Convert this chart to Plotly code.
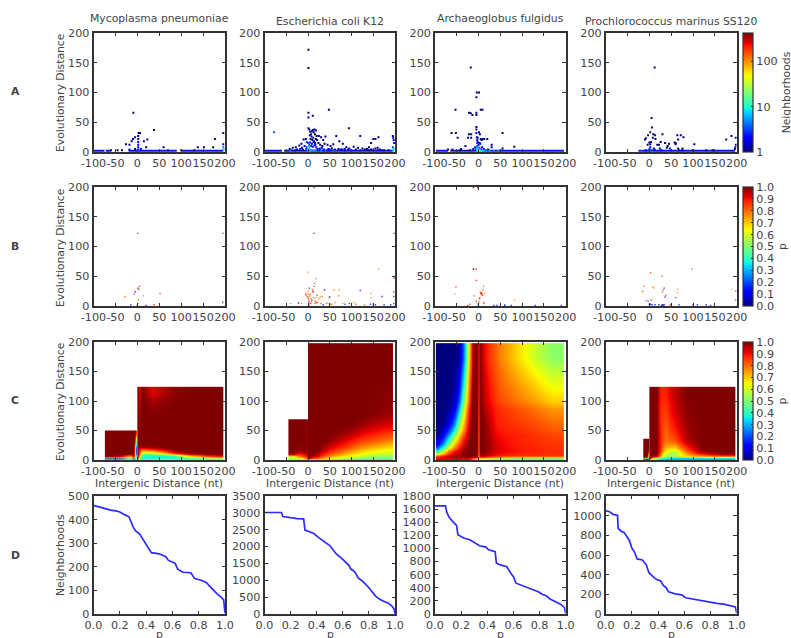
import math
import plotly.graph_objects as go

W, H = 791, 638
col_names = ["Mycoplasma pneumoniae", "Escherichia coli K12", "Archaeoglobus fulgidus", "Prochlorococcus marinus SS120"]
col_px = [(93.5, 225), (264.5, 395), (435, 565.7), (605.7, 736.7)]
row_px = [(33, 152), (187, 306), (342, 460), (496, 614)]
x_ticks = [-100, -50, 0, 50, 100, 150, 200]
y_ticks = [0, 50, 100, 150, 200]
p_ticks = [0, 0.2, 0.4, 0.6, 0.8, 1.0]
d_max = [500, 3500, 1800, 1200]
d_step = [100, 500, 200, 200]

JET = [[0, "#00007f"], [.11, "#0000ff"], [.125, "#0000ff"], [.34, "#00dcff"], [.375, "#14ffd4"],
       [.64, "#f7ff00"], [.66, "#ffed00"], [.89, "#ff1700"], [.91, "#f20000"], [1, "#7f0000"]]
INK = "#444444"

# Row A: neighbourhood counts
A1_x = [-9, 3, 6, 2, 2, 2, 2, 2, 2, 38, -5, -10, -13, 15, 23, 20, -26, -18, -18, 60, 177, 196, 196, 196, 173, 152, 138, -35, -45, -60, -5, 8, 100, 130, 70, 197, 1]
A1_y = [66, 32, 32, 27, 22, 17, 12, 8, 4, 37, 25, 22, 18, 18, 21, 8, 13, 12, 4, 8, 22, 32, 13, 8, 8, 8, 8, 3, 3, 3, 5, 5, 3, 3, 3, 4, 3]
A1_n = [1, 1, 1, 1, 1, 2, 2, 2, 3, 1, 1, 1, 1, 1, 1, 1, 1, 1, 2, 1, 1, 1, 2, 5, 1, 1, 1, 1, 1, 1, 1, 2, 1, 1, 1, 7, 4]
A1_base_x = [-100, -75, None, -72, -60, None, -20, 90, None, 100, 196]
A1_base_y = [2, 2, None, 2, 2, None, 2, 2, None, 2, 2]

A2_x = [1, 1, 1, 1, 11, 48, -78, 1, 94, 120, 162, 150, 145, 155, 140, 136, 160, 195, 196, 197, 198, 195,
        3, 5, 7, 9, 11, 13, 15, 16, 18, 20, 4, 6, 8, 10, 12, 14, 16, 18, 5, 9, 13, 17, 21, 25, 30, 35, 40, 3, 7, 11, 15, 19,
        24, 28, 33, 38, 45, 52, 58, 65, 72, 80, 88, 95, 105, 115, 125, 135, 145, 155, 165, 175, 185,
        22, 27, 32, 37, 47, 55, 62, 70, 78, 84, 92, 100, 110, 120, 130, 140, 150, 160, 170,
        -5, -10, -15, -20, -8, -14, -28, -35, -42, -12, -3, -25, -38, -3, 28, 36, 44, 50, 60, 75, 85,
        -4, 0, -40, -30, -18, 2, 4, -1, 0, 1, 2, 3, 4, 6, 8, 10, 14, 18, 30, 40, 60, 196, 197]
A2_y = [172, 141, 66, 58, 61, 71, 33, 40, 40, 27, 25, 22, 15, 22, 8, 5, 7, 27, 24, 20, 15, 8,
        38, 34, 30, 35, 37, 33, 38, 30, 36, 27, 28, 22, 26, 20, 24, 18, 15, 22, 16, 14, 17, 12, 20, 27, 25, 20, 26, 12, 10, 9, 11, 8,
        15, 12, 10, 14, 12, 10, 13, 27, 18, 14, 8, 6, 9, 7, 6, 5, 4, 6, 4, 3, 3,
        5, 6, 7, 4, 5, 6, 4, 5, 4, 5, 4, 3, 4, 3, 4, 3, 4, 3, 3,
        22, 21, 14, 11, 10, 7, 8, 7, 5, 4, 17, 4, 3, 8, 4, 3, 3, 4, 3, 4, 3,
        5, 15, 2, 3, 5, 8, 4, 3, 5, 8, 2, 3, 2, 2, 3, 2, 2, 3, 2, 2, 2, 2, 5]
A2_n = [1, 1, 1, 1, 1, 1, 4, 1, 1, 1, 1, 1, 1, 1, 1, 1, 1, 1, 2, 2, 2, 3,
        1, 1, 1, 1, 1, 1, 1, 1, 1, 1, 2, 1, 1, 1, 1, 1, 1, 1, 2, 2, 1, 2, 1, 1, 1, 1, 1, 3, 3, 2, 2, 2,
        1, 1, 1, 1, 1, 1, 1, 1, 1, 1, 1, 1, 1, 1, 1, 1, 1, 1, 1, 1, 1,
        2, 2, 2, 2, 2, 1, 2, 1, 2, 1, 2, 2, 1, 2, 1, 2, 1, 2, 2,
        1, 1, 1, 1, 2, 1, 1, 1, 1, 1, 3, 1, 1, 3, 2, 2, 2, 2, 2, 2, 2,
        3, 3, 5, 2, 2, 4, 5, 6, 8, 9, 10, 8, 7, 6, 6, 5, 5, 5, 5, 4, 4, 8, 8]
A2_base_x = [-100, -60, None, -55, -25, None, -25, 196]
A2_base_y = [2, 2, None, 2, 2, None, 2, 2]

A3_x = [-18, -4, 1, -5, 5, -53, -22, -18, -14, -5, -5, 9, -5, -5, -62, -52, -48, -22, -17, -17, -24, 55, 82, 55,
        -5, -4, -3, -3, -3, -3, -2, -2, 0, 1, 3, 5, 7, 10, 13, 2, 4, 8, 20, 30, 30, 22, 2, -8, -12, -20, -30, -40, -43, -60, -70, 12, 18, 6, -6,
        -4, -3, -2, -2, -1, 0, 1, 3, 5, 8, 12, 18, 25, 35, 45]
A3_y = [142, 100, 100, 92, 71, 71, 66, 65, 62, 66, 62, 71, 42, 38, 32, 32, 24, 30, 30, 24, 24, 32, 9, 6,
        32, 25, 20, 15, 10, 6, 24, 17, 12, 33, 30, 22, 20, 22, 22, 15, 14, 8, 22, 12, 8, 4, 7, 8, 5, 3, 10, 5, 3, 4, 4, 5, 3, 4, 4,
        3, 5, 2, 8, 3, 2, 3, 2, 2, 2, 2, 2, 2, 2, 2]
A3_n = [1, 1, 1, 1, 1, 1, 1, 1, 1, 1, 1, 1, 1, 1, 1, 1, 1, 1, 1, 1, 1, 1, 1, 1,
        2, 2, 2, 3, 3, 4, 1, 2, 2, 1, 1, 1, 1, 1, 1, 2, 2, 2, 1, 1, 1, 1, 3, 2, 1, 1, 1, 1, 1, 1, 1, 2, 1, 2, 2,
        5, 8, 11, 6, 13, 14, 12, 10, 9, 8, 7, 6, 6, 5, 5]
A3_base_x = [-98, -70, None, -65, 196]
A3_base_y = [2, 2, None, 2, 2]

A4_x = [12, 5, 6, -3, 2, 9, 13, 0, -4, 30, 36, -8, -10, 2, 8, 14, 18, 26, 64, 66, 58, 72, 78, 60, 60, 66, 45, 42, 40, 47, 103,
        188, 176, 198, 198, 197, 196, 4, 10, 2, 0, 12, 22, 24, -8, 28, 68, 76, 75, 130, 145, 100, 48, 3, 4, 5]
A4_y = [142, 57, 41, 28, 33, 30, 28, 16, 12, 30, 15, 23, 21, 13, 24, 22, 12, 17, 28, 21, 16, 28, 25, 13, 15, 6, 14, 10, 7, 6, 13,
        27, 21, 24, 12, 8, 5, 17, 6, 8, 5, 4, 12, 6, 3, 3, 3, 6, 3, 3, 3, 3, 3, 3, 2, 3]
A4_n = [1, 1, 1, 1, 1, 1, 1, 1, 1, 1, 1, 1, 1, 1, 1, 1, 1, 1, 1, 1, 1, 1, 1, 1, 1, 1, 1, 1, 1, 1, 1,
        1, 1, 1, 1, 2, 2, 1, 2, 2, 3, 2, 1, 1, 2, 2, 1, 1, 1, 1, 1, 1, 3, 4, 5, 3]
A4_base_x = [-25, -18, None, -18, 196]
A4_base_y = [2, 2, None, 2, 2]

# Row B: p of single observations
B1_x = [1, 195, 5, 1, -5, -7, 14, 52, -28, 2, 1, 38, -15, 20, 195, 3, 0]
B1_y = [122, 122, 33, 30, 24, 20, 17, 21, 15, 10, 4, 2, 2, 1, 6, 28, 1]
B1_p = [.92, .92, .9, .98, .12, .9, .8, .85, .85, .8, .95, .9, .15, .15, .95, .98, .2]

B2_x = [14, 14, 162, 0, 19, 198, 198, 197, -5, -6, -2, 0, 1, 2, 3, 5, 6, 8, 10, 11, 12, 13, 15, 17, 19, 21, 25, 30, 35,
        38, 50, 60, 72, 70, 48, 55, 105, 120, 143, 145, 145, 170, 155, 190, 197, 197, -15, -22, -40, 28, 2, 4, 14, 42, 85, 95, 175,
        -4, 0, 1, 2, 7, 9, 16, 18, 22, 33, 45, 52, 62, 80, 110, 130, 150]
B2_y = [199, 122, 62, 57, 46, 122, 47, 24, 22, 20, 15, 25, 12, 8, 30, 20, 4, 7, 28, 25, 24, 14, 38, 8, 6, 18, 12, 4, 2,
        27, 15, 27, 27, 17, 14, 3, 6, 26, 3, 21, 14, 16, 2, 2, 16, 4, 4, 5, 4, 15, 1, 17, 33, 4, 3, 4, 2,
        18, 20, 15, 5, 12, 10, 4, 14, 6, 16, 5, 3, 6, 4, 3, 2, 3]
B2_p = [.95, .95, .8, .8, .8, .95, .9, .9, .75, .8, .85, .8, .95, .9, .1, .85, .9, .9, .85, .9, .95, .8, .85, .85, .9, .85, .8, .85, .1,
        .12, .12, .8, .78, .85, .8, .8, .75, .15, .15, .75, .75, .12, .12, .12, .12, .15, .8, .12, .8, .8, .98, .85, .9, .8, .15, .15, .15,
        .8, .85, .8, .9, .85, .9, .85, .8, .8, .8, .75, .8, .75, .78, .8, .8, .15]

B3_x = [-12, -11, -2, -12, -5, -5, 11, 10, 8, 6, 4, 14, 2, -52, -54, 83, -10, -5, -3, -2, 0, 1, 3, 5, 7, 9, 12, -20, -25, 35, 42, 60, 75, 130, 190, -1, 12, 60]
B3_y = [199, 62, 199, 62, 62, 43, 33, 27, 20, 20, 23, 21, 12, 32, 20, 10, 17, 8, 5, 3, 4, 7, 14, 22, 22, 18, 6, 3, 1, 1, 1, 2, 1, 1, 1, 1, 4, 1]
B3_p = [.95, .95, .95, .95, .95, .9, .8, .8, .9, .9, .85, .75, .9, .85, .75, .75, .85, .9, .5, .4, .3, .9, .85, .9, .9, .9, .85, .85, .9, .12, .12, .3, .15, .15, .15, .3, .85, .1]

B4_x = [98, 3, 29, -12, -16, 8, 10, 32, 34, 63, 65, 188, 198, 198, -8, -15, 4, 30, 32, 38, 36, 60, 0, 3, 6, 28, 30, 34, 32, 22, 68, 100, 110, 130, 140, 48, -3, 13]
B4_y = [62, 56, 50, 33, 25, 32, 30, 27, 30, 22, 28, 28, 25, 10, 9, 24, 10, 23, 27, 18, 15, 14, 3, 3, 2, 1, 2, 2, 1, 2, 2, 2, 2, 2, 1, 2, 8, 2]
B4_p = [.85, .85, .85, .8, .8, .8, .78, .78, .15, .75, .78, .75, .95, .9, .85, .8, .85, .8, .75, .85, .15, .15, .1, .05, .1, .1, .05, .1, .05, .1, .15, .15, .15, .1, .1, .9, .2, .1]

# Row C: smoothed p surfaces
C1L_xe = [-74, -50, -30, -20, -12, -7, -5, -3.5, -2, 0]
C1L_ye = [0, 1, 3, 5, 7, 9, 12, 17, 25, 38, 50]
C1L_z = [[.95, .95, .95, .85, .6, .3, .1, .1, .5],
         [.04, .04, .08, .1, .05, .02, .02, .3, .7],
         [.15, .2, .5, .6, .2, .4, .6, .6, .85],
         [.97, .92, .75, .72, .9, .85, .55, .3, .85],
         [1, 1, .93, .85, .97, .85, .5, .15, .8],
         [1, 1, 1, 1, 1, .85, .4, .05, .7],
         [1, 1, 1, 1, 1, .85, .35, .02, .55],
         [1, 1, 1, 1, 1, .9, .4, .02, .5],
         [1, 1, 1, 1, 1, 1, .65, .3, .65],
         [1, 1, 1, 1, 1, 1, .98, .8, .95]]
C1R_xe = [0, 2, 6, 12, 25, 45, 70, 100, 140, 170, 196]
C1R_ye = [0, 1.5, 3, 5, 8, 11, 14, 17, 20, 24, 30, 60, 85, 105, 124]
C1R_z = [[.9, .6, .3, .38, .42, .42, .42, .4, .4, .4],
         [.8, .55, .4, .4, .42, .42, .4, .42, .42, .45],
         [.95, .6, .4, .38, .38, .38, .4, .5, .6, .7],
         [1, .7, .45, .38, .38, .38, .42, .7, .85, .9],
         [1, .8, .5, .4, .42, .45, .65, .9, .97, 1],
         [1, .85, .6, .55, .6, .7, .88, .98, 1, 1],
         [1, .85, .75, .72, .75, .85, .97, 1, 1, 1],
         [1, .9, .85, .85, .9, .95, 1, 1, 1, 1],
         [1, .97, .97, .97, .98, 1, 1, 1, 1, 1],
         [1, 1, 1, 1, 1, 1, 1, 1, 1, 1],
         [1, 1, 1, 1, 1, 1, 1, 1, 1, 1],
         [1, .97, 1, 1, 1, 1, 1, 1, 1, 1],
         [1, .95, 1, 1, .98, .99, 1, 1, 1, 1],
         [1, .93, 1, .98, .92, .96, .99, 1, 1, 1]]

C2L_xe = [-45, -30, -20, -12, -4, -2, 0]
C2L_ye = [0, 2, 5, 8, 12, 20, 40, 69]
C2L_z = [[.5, .5, .5, .6, .7, .7],
         [.55, .58, .62, .72, .85, .9],
         [.6, .75, .8, .85, .9, .95],
         [.95, .87, .85, .92, .95, .97],
         [1, .98, .97, 1, .95, 1],
         [1, 1, 1, 1, .97, 1],
         [1, 1, 1, 1, .97, 1]]
C2R_xe = [0, 5, 15, 30, 50, 80, 110, 140, 170, 196]
C2R_ye = [0, 1, 2, 4, 8, 14, 20, 28, 38, 50, 65, 85, 198]
C2R_z = [[.4, .4, .45, .4, .38, .38, .38, .38, .38],
         [.75, .7, .65, .55, .5, .45, .42, .42, .42],
         [.97, .85, .8, .7, .6, .55, .5, .48, .48],
         [1, .95, .9, .8, .7, .62, .57, .53, .52],
         [1, 1, .95, .87, .78, .7, .63, .6, .58],
         [1, 1, 1, .93, .85, .77, .7, .66, .63],
         [1, 1, 1, .97, .91, .85, .78, .74, .7],
         [1, 1, 1, 1, .96, .9, .85, .82, .78],
         [1, 1, 1, 1, .99, .96, .91, .88, .85],
         [1, 1, 1, 1, 1, 1, .97, .94, .92],
         [1, 1, 1, 1, 1, 1, 1, .99, .97],
         [1, 1, 1, 1, 1, 1, 1, 1, 1]]

C3_xe = [-98, -88, -75, -62, -50, -40, -32, -25, -18, -12, -1.5, -.5, .5, 6, 15, 30, 50, 80, 115, 150, 196]
C3_ye = [0, 1, 3, 5, 10, 20, 35, 50, 75, 100, 150, 198]
C3_z = [[.95, .95, .95, .95, .95, .95, .95, .9, .85, .75, .7, .7, .6, .7, .65, .6, .55, .55, .55, .55],
        [.9, .9, .9, .9, .9, .9, .9, .88, .8, .7, .65, .7, .6, .55, .5, .45, .42, .42, .42, .42],
        [.9, .92, .92, .93, .94, .95, .96, .95, .9, .85, .7, .75, .7, .75, .7, .65, .6, .55, .55, .55],
        [.85, .9, .95, .97, .98, .99, 1, 1, 1, 1, .98, .7, .95, .97, .93, .88, .87, .86, .86, .86],
        [.4, .6, .8, .9, .95, .98, 1, 1, 1, 1, 1, .75, 1, 1, .97, .93, .91, .89, .88, .87],
        [.1, .25, .5, .7, .82, .92, .98, 1, 1, 1, 1, .75, 1, 1, .98, .93, .9, .88, .87, .86],
        [.01, .1, .28, .5, .68, .82, .92, .98, 1, 1, 1, .75, 1, 1, .97, .91, .89, .88, .86, .84],
        [0, .01, .1, .25, .5, .68, .84, .94, 1, 1, 1, .78, 1, 1, .96, .89, .87, .85, .83, .8],
        [0, 0, .02, .1, .3, .55, .75, .9, 1, 1, 1, .8, 1, .98, .93, .88, .85, .82, .79, .75],
        [0, 0, 0, .02, .12, .35, .6, .82, .97, 1, 1, .82, 1, .96, .9, .84, .79, .74, .69, .63],
        [0, 0, 0, 0, .03, .2, .45, .72, .93, 1, 1, .85, 1, .94, .87, .81, .74, .66, .58, .51]]

C4L_xe = [-14, -8, -4, -2.5, -1, 0]
C4L_ye = [0, 2, 4, 7, 11, 16, 25, 36]
C4L_z = [[.05, .05, .1, .3, .9],
         [.05, .05, .12, .35, .9],
         [1, 1, .8, .3, .9],
         [1, 1, .95, .35, 1],
         [1, 1, 1, .75, 1],
         [1, 1, 1, 1, 1],
         [1, 1, 1, 1, 1]]
C4R_xe = [0, 5, 12, 20, 30, 45, 70, 100, 140, 196]
C4R_ye = [0, 1.5, 3, 5, 8, 12, 17, 25, 35, 50, 70, 95, 124]
C4R_z = [[.65, .4, .35, .3, .28, .25, .25, .25, .25],
         [.85, .55, .45, .35, .32, .3, .3, .3, .3],
         [.95, .8, .7, .55, .42, .38, .38, .42, .45],
         [.98, .97, .95, .75, .55, .55, .68, .75, .82],
         [1, 1, 1, .8, .57, .55, .74, .88, .98],
         [1, 1, 1, .85, .62, .55, .8, .97, 1],
         [1, 1, 1, .88, .72, .7, .88, 1, 1],
         [1, 1, 1, .88, .78, .8, .94, 1, 1],
         [1, 1, 1, .88, .8, .86, .97, 1, 1],
         [1, 1, 1, .87, .82, .9, .98, 1, 1],
         [1, 1, 1, .87, .85, .93, .99, 1, 1],
         [1, 1, 1, .88, .88, .95, 1, 1, 1]]

# Row D: neighbourhoods with p above a threshold
D1_p = [0, .03, .05, .1, .13, .17, .2, .24, .27, .3, .32, .35, .38, .42, .44, .5, .55, .57, .62, .64, .68, .74, .77, .82, .86, .88, .91, .94, .97, .99, 1]
D1_n = [460, 455, 450, 445, 440, 437, 432, 420, 412, 370, 352, 340, 312, 275, 260, 255, 243, 227, 215, 190, 177, 175, 150, 143, 133, 120, 100, 85, 72, 60, 5]
D2_p = [0, .13, .14, .18, .25, .3, .31, .35, .38, .41, .45, .5, .55, .6, .65, .66, .69, .72, .75, .8, .85, .87, .9, .95, .98, .995, 1]
D2_n = [3010, 3010, 2890, 2860, 2830, 2820, 2490, 2430, 2380, 2280, 2170, 2030, 1780, 1620, 1430, 1340, 1260, 1060, 980, 780, 540, 470, 400, 320, 220, 130, 10]
D3_p = [0, .08, .09, .11, .14, .165, .175, .22, .27, .3, .34, .39, .41, .46, .47, .5, .55, .58, .6, .62, .7, .75, .79, .82, .85, .88, .93, .96, .99, 1]
D3_n = [1650, 1650, 1550, 1470, 1400, 1350, 1210, 1160, 1130, 1090, 1040, 1020, 980, 950, 775, 750, 720, 620, 570, 470, 410, 370, 340, 300, 280, 230, 180, 150, 100, 10]
D4_p = [0, .03, .06, .09, .095, .12, .14, .18, .2, .22, .24, .28, .31, .33, .37, .39, .42, .44, .46, .48, .53, .58, .61, .68, .74, .78, .85, .9, .95, .99, 1]
D4_n = [1050, 1040, 1010, 1005, 870, 840, 830, 750, 670, 630, 560, 550, 500, 420, 370, 350, 335, 290, 270, 225, 205, 195, 165, 148, 135, 118, 108, 100, 85, 72, 10]

A_pts = [(A1_x, A1_y, A1_n, A1_base_x, A1_base_y), (A2_x, A2_y, A2_n, A2_base_x, A2_base_y),
         (A3_x, A3_y, A3_n, A3_base_x, A3_base_y), (A4_x, A4_y, A4_n, A4_base_x, A4_base_y)]
B_pts = [(B1_x, B1_y, B1_p), (B2_x, B2_y, B2_p), (B3_x, B3_y, B3_p), (B4_x, B4_y, B4_p)]
C_blocks = [[(C1L_xe, C1L_ye, C1L_z), (C1R_xe, C1R_ye, C1R_z)], [(C2L_xe, C2L_ye, C2L_z), (C2R_xe, C2R_ye, C2R_z)],
            [(C3_xe, C3_ye, C3_z)], [(C4L_xe, C4L_ye, C4L_z), (C4R_xe, C4R_ye, C4R_z)]]
D_lines = [(D1_p, D1_n), (D2_p, D2_n), (D3_p, D3_n), (D4_p, D4_n)]

FS = 10.8
TFS = 11.2
fig = go.Figure()
layout = dict(width=W, height=H, margin=dict(l=0, r=0, t=0, b=0, autoexpand=False), showlegend=False,
              paper_bgcolor="white", plot_bgcolor="white", font=dict(family="DejaVu Sans", size=FS, color=INK))


def ax_style(**kw):
    d = dict(showgrid=False, zeroline=False, showline=True, linewidth=1.6, linecolor="#333333", mirror="allticks",
             ticks="inside", ticklen=3.5, tickwidth=1, tickcolor="#333333", tickangle=0, layer="above traces",
             tickfont=dict(size=TFS, color=INK))
    d.update(kw)
    return d


for r in range(4):
    for c in range(4):
        idx = r * 4 + c + 1
        x0, x1 = col_px[c]
        y0, y1 = row_px[r]
        xn, yn = f"xaxis{idx}", f"yaxis{idx}"
        xr, yr = f"x{idx}", f"y{idx}"
        if r < 3:
            xa = ax_style(range=[-100, 200], tickvals=x_ticks, ticktext=[str(v) for v in x_ticks])
            ya = ax_style(range=[0, 200], tickvals=y_ticks, ticktext=[str(v) for v in y_ticks])
        else:
            xa = ax_style(range=[0, 1], tickvals=p_ticks, ticktext=[f"{v:.1f}" for v in p_ticks])
            vals = list(range(0, d_max[c] + 1, d_step[c]))
            ya = ax_style(range=[0, d_max[c]], tickvals=vals, ticktext=[str(v) for v in vals])
        xa.update(domain=[x0 / W, x1 / W], anchor=yr)
        ya.update(domain=[1 - y1 / H, 1 - y0 / H], anchor=xr)
        layout[xn] = xa
        layout[yn] = ya
        if r == 0:
            xs, ys, ns, bx, by = A_pts[c]
            fig.add_trace(go.Scatter(x=bx, y=by, mode="lines", line=dict(color="#0a14e6", width=2), xaxis=xr, yaxis=yr, hoverinfo="skip"))
            fig.add_trace(go.Scatter(x=xs, y=ys, mode="markers", xaxis=xr, yaxis=yr,
                                     marker=dict(symbol="square", size=2, line=dict(width=0),
                                                 color=[math.log10(n) for n in ns], coloraxis="coloraxis")))
        elif r == 1:
            xs, ys, ps = B_pts[c]
            fig.add_trace(go.Scatter(x=xs, y=ys, mode="markers", xaxis=xr, yaxis=yr,
                                     marker=dict(symbol="square", size=1.4, opacity=.8, line=dict(width=0), color=ps, coloraxis="coloraxis2")))
        elif r == 2:
            for xe, ye, z in C_blocks[c]:
                fig.add_trace(go.Heatmap(x=xe, y=ye, z=z, zsmooth="best", coloraxis="coloraxis3", xaxis=xr, yaxis=yr))
        else:
            ps, ns = D_lines[c]
            fig.add_trace(go.Scatter(x=ps, y=ns, mode="lines", line=dict(color="#2b2bff", width=1.7), xaxis=xr, yaxis=yr))


def cbar(row, title, **kw):
    y0, y1 = row_px[row]
    d = dict(x=743 / W, xanchor="left", xpad=0, ypad=0, thickness=10, thicknessmode="pixels",
             len=(y1 - y0) / H, lenmode="fraction", y=1 - y1 / H, yanchor="bottom",
             outlinewidth=1.2, outlinecolor="#333333", ticks="inside", ticklen=2, tickcolor="#333333",
             tickfont=dict(size=TFS, color=INK),
             title=dict(text=title, side="right", font=dict(size=FS, color=INK)))
    d.update(kw)
    return d


layout["coloraxis"] = dict(colorscale=JET, cmin=0, cmax=2.62,
                           colorbar=cbar(0, "Neighborhoods", tickvals=[0, 1, 2], ticktext=["1", "10", "100"]))
tenths = [i / 10 for i in range(11)]
layout["coloraxis2"] = dict(colorscale=JET, cmin=0, cmax=1,
                            colorbar=cbar(1, "p", tickvals=tenths, ticktext=[f"{v:.1f}" for v in tenths]))
layout["coloraxis3"] = dict(colorscale=JET, cmin=0, cmax=1,
                            colorbar=cbar(2, "p", tickvals=tenths, ticktext=[f"{v:.1f}" for v in tenths]))


def note(text, px, py, angle=0, bold=False, anchor="center"):
    return dict(text=f"<b>{text}</b>" if bold else text, x=px / W, y=1 - py / H, xref="paper", yref="paper",
                showarrow=False, xanchor=anchor, yanchor="middle", textangle=angle,
                font=dict(size=FS, color=INK, family="DejaVu Sans"))


notes = []
title_y = [18, 21, 18, 21]
title_x = [159, 330, 500, 671]
for c in range(4):
    notes.append(note(col_names[c], title_x[c], title_y[c]))
    notes.append(note("Intergenic Distance (nt)", title_x[c], 483))
    notes.append(note("p", title_x[c], 634))
for lab, y in zip("ABCD", [92, 246, 400, 555]):
    notes.append(note(lab, 15, y, bold=True))
notes.append(note("Evolutionary Distance", 60, 93, angle=-90))
notes.append(note("Evolutionary Distance", 60, 248, angle=-90))
notes.append(note("Evolutionary Distance", 60, 402, angle=-90))
notes.append(note("Neighborhoods", 60, 555, angle=-90))
layout["annotations"] = notes

fig.update_layout(**layout)
fig.write_html("out.html", config={"displayModeBar": False},
               post_script="document.body.style.margin='0';document.documentElement.style.overflow='hidden';")
